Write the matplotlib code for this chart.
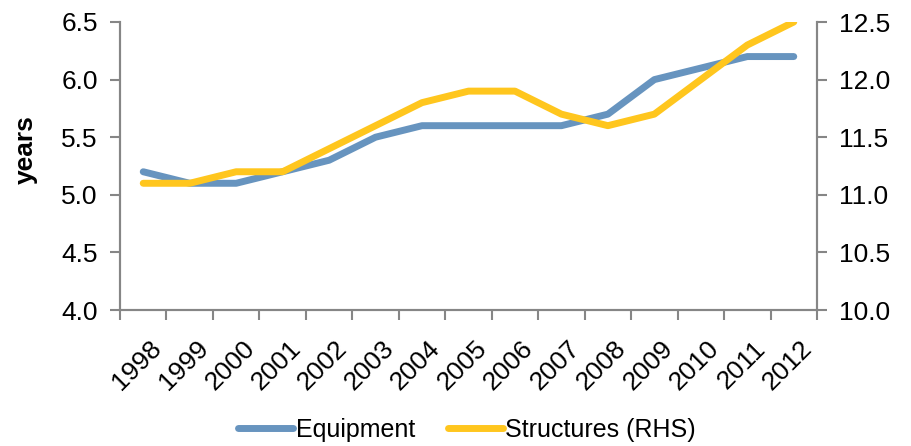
import numpy as np
import matplotlib
matplotlib.use("Agg")
import matplotlib.pyplot as plt
from matplotlib.transforms import ScaledTranslation

plt.rcParams['font.family'] = ['Liberation Sans', 'DejaVu Sans']

years = ['1998', '1999', '2000', '2001', '2002', '2003', '2004', '2005',
         '2006', '2007', '2008', '2009', '2010', '2011', '2012']
equipment = [5.2, 5.1, 5.1, 5.2, 5.3, 5.5, 5.6, 5.6, 5.6, 5.6, 5.7, 6.0, 6.1, 6.2, 6.2]
structures = [11.1, 11.1, 11.2, 11.2, 11.4, 11.6, 11.8, 11.9, 11.9, 11.7, 11.6, 11.7, 12.0, 12.3, 12.5]

blue = '#6794BF'
yellow = '#FFC61E'
grey = '#868686'

fig = plt.figure(figsize=(9.11, 4.46), dpi=100)
ax = fig.add_axes([120/911, 1 - 310/446, (817 - 120)/911, (310 - 22)/446])
ax2 = ax.twinx()

x = np.arange(len(years))
l1, = ax.plot(x, equipment, color=blue, lw=5, solid_capstyle='round', zorder=2)
l2, = ax2.plot(x, structures, color=yellow, lw=5, solid_capstyle='round', zorder=3)

ax.set_xlim(-0.5, len(years) - 0.5)
ax.set_ylim(4.0, 6.5)
ax2.set_ylim(10.0, 12.5)
ax.set_yticks(np.arange(4.0, 6.51, 0.5))
ax2.set_yticks(np.arange(10.0, 12.51, 0.5))
ax.set_yticklabels(['%.1f' % v for v in np.arange(4.0, 6.51, 0.5)])
ax2.set_yticklabels(['%.1f' % v for v in np.arange(10.0, 12.51, 0.5)])

# category labels at centres, tick marks between categories
ax.set_xticks(x)
ax.set_xticklabels(years, rotation=45, ha='right', va='top', rotation_mode='anchor')
ax.set_xticks(np.arange(-0.5, len(years), 1.0), minor=True)
ax.tick_params(axis='x', which='major', length=0, pad=19, labelsize=19)
ax.tick_params(axis='x', which='minor', length=7, color=grey, width=1.5, direction='out')
ax.tick_params(axis='y', length=7, color=grey, width=1.5, pad=9, labelsize=19)
ax2.tick_params(axis='y', length=7, color=grey, width=1.5, pad=9, labelsize=19)
shift = ScaledTranslation(6/100, 0, fig.dpi_scale_trans)
for lab in ax.get_xticklabels():
    lab.set_transform(lab.get_transform() + shift)

for a in (ax, ax2):
    a.spines['top'].set_visible(False)
    for s in ('left', 'right', 'bottom'):
        a.spines[s].set_color(grey)
        a.spines[s].set_linewidth(1.5)

fig.text(26/911, 1 - 150/446, 'years', rotation=90, fontsize=19, fontweight='bold',
         ha='center', va='center')

fig.legend([l1, l2], ['Equipment', 'Structures (RHS)'], loc='center',
           bbox_to_anchor=(467/911, 1 - 430/446), ncol=2, frameon=False,
           fontsize=18, handlelength=2.2, handletextpad=0.1, columnspacing=1.3)

fig.savefig('out.png', dpi=100)
